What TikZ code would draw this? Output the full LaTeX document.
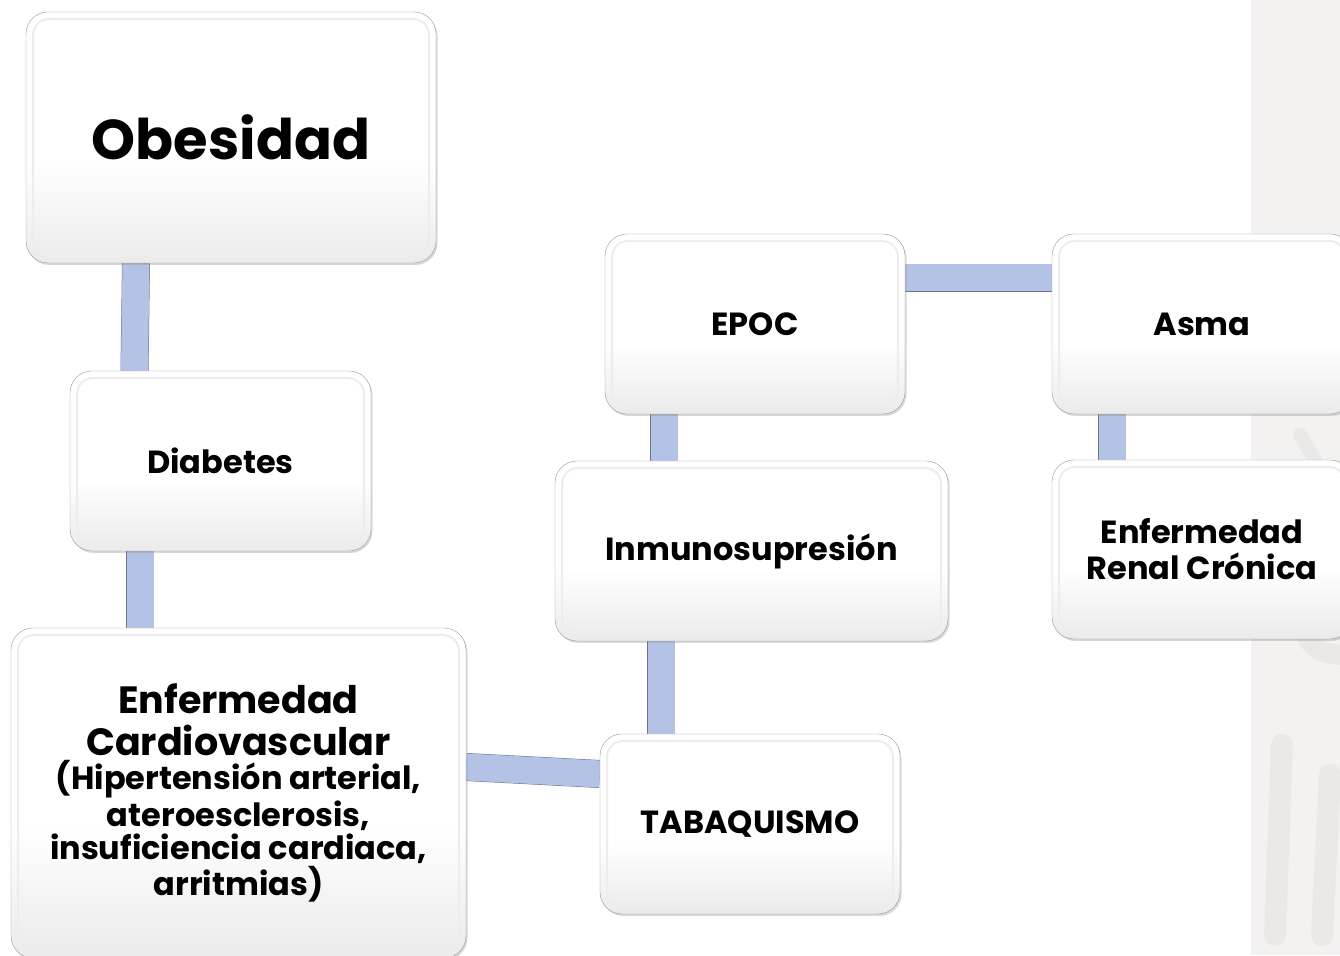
\documentclass[tikz,border=0pt]{standalone}
\usepackage{fontspec}
\setmainfont{Poppins}
\usepackage{tikz}
\usetikzlibrary{positioning,shapes,shadows,backgrounds}
\usepackage{xcolor}
\definecolor{lavanda}{HTML}{B4C2E6}
\definecolor{lavborde}{HTML}{6B7590}
\definecolor{franja}{HTML}{F3F2F1}
\definecolor{franjatrazo}{HTML}{EAE9E7}
\pgfdeclareverticalshading{cajafondo}{100bp}{color(0bp)=(black!8); color(25bp)=(black!8); color(45bp)=(white); color(100bp)=(white)}
\tikzstyle{caja}=[rectangle, draw=black!40, rounded corners=22pt, shading=cajafondo,
drop shadow={opacity=0.3, shadow xshift=1.5pt, shadow yshift=-2pt},
text centered, text=black, font=\bfseries,
path picture={\draw[black!7, line width=2pt, rounded corners=16pt]
  ([shift={(7pt,-7pt)}]path picture bounding box.north west) rectangle
  ([shift={(-7pt,7pt)}]path picture bounding box.south east);}]
\tikzstyle{enlace}=[draw=lavborde, line width=0.5pt, double=lavanda, double distance=27pt]
\tikzstyle{etiqueta}=[font=\bfseries\fontsize{32}{36}\selectfont]

\begin{document}
\begin{tikzpicture}[x=1pt, y=1pt]
            \useasboundingbox (0,0) rectangle (1340,955);
            \clip (0,0) rectangle (1340,955);
            % franja gris de la derecha
            \fill[franja] (1251,0) rectangle (1340,955);
            \begin{scope}
                \clip (1251,0) rectangle (1340,955);
                \draw[franjatrazo, line width=22pt, line cap=round] (1275,20) -- (1282,210);
                \draw[franjatrazo, line width=22pt, line cap=round] (1322,20) -- (1330,180);
                \draw[franjatrazo, line width=20pt, line cap=round] (1345,300) .. controls (1300,300) and (1300,330) .. (1302,370);
                \draw[franjatrazo, line width=14pt, line cap=round] (1300,520) -- (1330,470);
            \end{scope}

            \node (obesidad)[caja, minimum width=410pt, minimum height=251pt] at (231,817.5)
                {\fontsize{56}{64}\selectfont Obesidad};
            \node (diabetes)[caja, etiqueta, minimum width=301pt, minimum height=180pt] at (220.5,494)
                {Diabetes};
            \node (cardio)[caja, minimum width=455pt, minimum height=330pt, align=center] at (238.5,162)
                {\fontsize{38}{41}\selectfont Enfermedad\\[10pt]
                 \fontsize{38}{41}\selectfont Cardiovascular\\[4pt]
                 \fontsize{32}{35}\selectfont (Hipertensión arterial,\\[2pt]
                 \fontsize{32}{35}\selectfont ateroesclerosis,\\[2pt]
                 \fontsize{32}{35}\selectfont insuficiencia cardiaca,\\[2pt]
                 \fontsize{32}{35}\selectfont arritmias)};
            \node (epoc)[caja, etiqueta, minimum width=300pt, minimum height=180pt] at (755,631)
                {EPOC};
            \node (asma)[caja, etiqueta, minimum width=300pt, minimum height=180pt] at (1202,631)
                {Asma};
            \node (inmuno)[caja, etiqueta, minimum width=393pt, minimum height=180pt] at (751.5,404)
                {Inmunosupresión};
            \node (renal)[caja, etiqueta, minimum width=300pt, minimum height=179pt, align=center] at (1202,405.5)
                {Enfermedad\\Renal Crónica};
            \node (tabaco)[caja, etiqueta, minimum width=300pt, minimum height=180pt] at (750,131)
                {TABAQUISMO};

            \begin{pgfonlayer}{background}
                \path[enlace] ([xshift=-95pt]obesidad.south) -- ([xshift=-86pt]diabetes.north);
                \path[enlace] ([xshift=-80.5pt]diabetes.south) -- ([xshift=-98.5pt]cardio.north);
                \path[enlace] ([yshift=26pt]cardio.east) -- ([yshift=50pt]tabaco.west);
                \path[enlace] ([xshift=-89pt]tabaco.north) -- ([xshift=-90.5pt]inmuno.south);
                \path[enlace] ([xshift=-87.5pt]inmuno.north) -- ([xshift=-91pt]epoc.south);
                \path[enlace] ([yshift=46pt]epoc.east) -- ([yshift=46pt]asma.west);
                \path[enlace] ([xshift=-90pt]asma.south) -- ([xshift=-90pt]renal.north);
            \end{pgfonlayer}
        \end{tikzpicture}
\end{document}
